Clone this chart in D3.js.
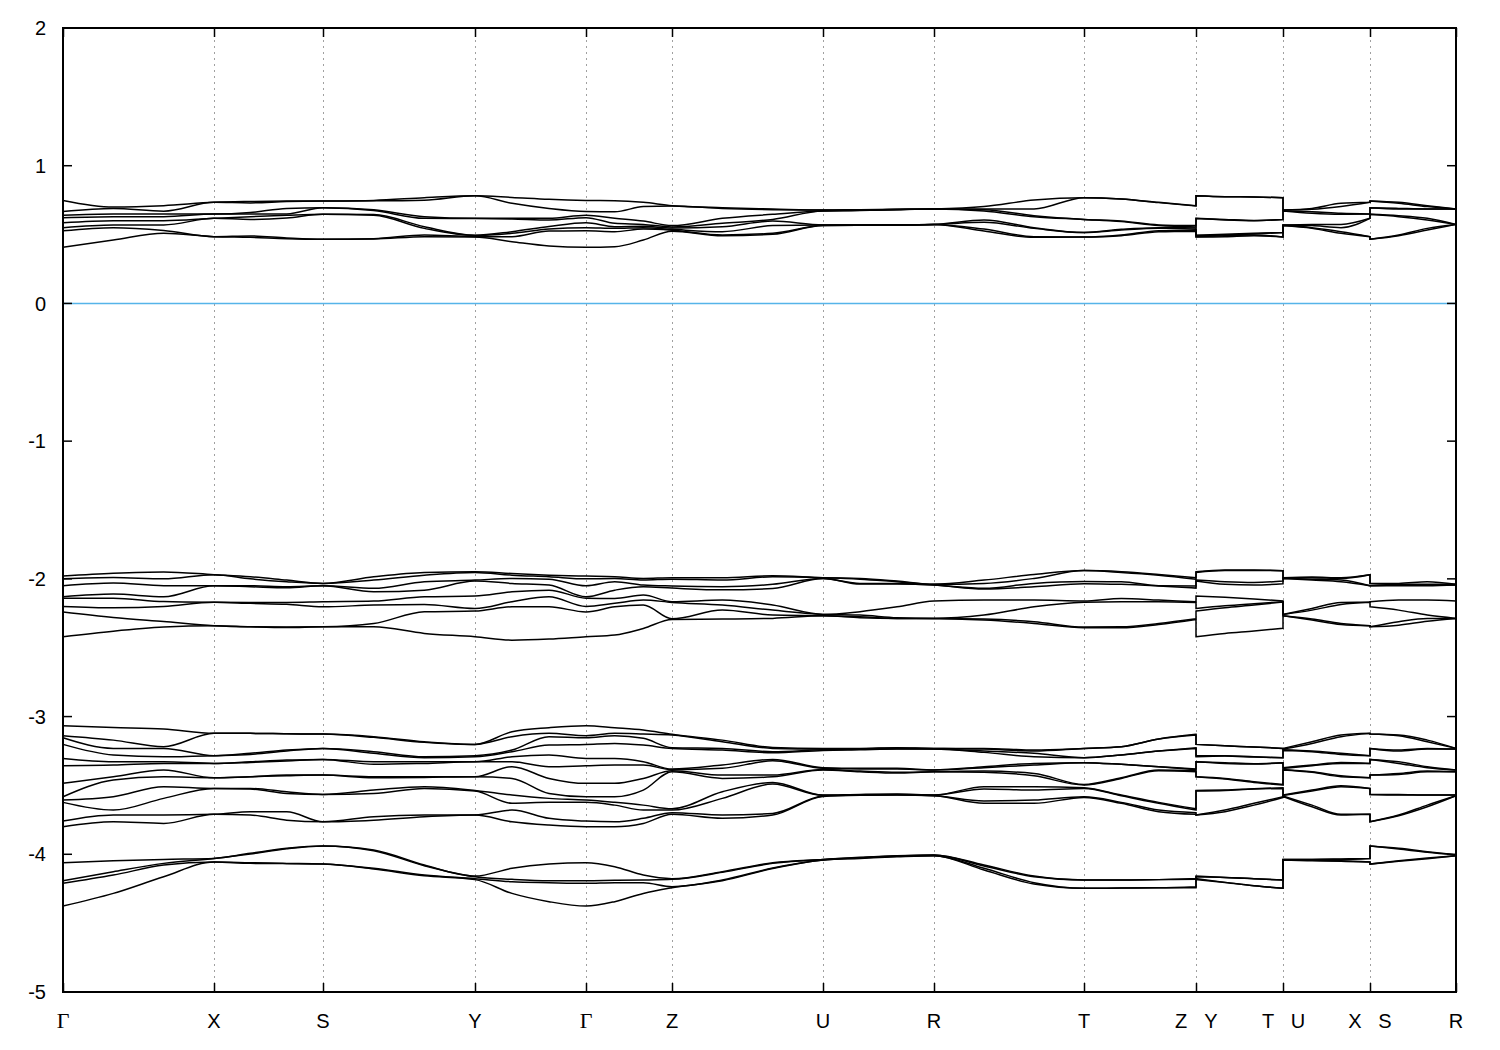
<!DOCTYPE html>
<html><head><meta charset="utf-8">
<script src="https://cdn.jsdelivr.net/npm/d3@7"></script>
<style>body{margin:0;background:#fff}svg{display:block}</style>
</head><body>
<svg id="chart" width="1500" height="1050"></svg>
<script>
// high-symmetry labels and their path coordinate
const kLabels = ["Γ","X","S","Y","Γ","Z","U","R","T","Z|Y","T|U","X|S","R"];
const kLabelPos = [0,1.51,2.60,4.12,5.23,6.09,7.60,8.71,10.21,11.33,12.20,13.07,13.93];
// k-point path coordinates of the sampled points (4 continuous pieces)
const kDist = [0,0.503,1.007,1.51,1.873,2.237,2.60,3.107,3.613,4.12,4.49,4.86,5.23,5.517,5.803,6.09,6.593,7.097,7.60,7.97,8.34,8.71,9.21,9.71,10.21,10.583,10.957,11.33,
  11.33,11.62,11.91,12.20,
  12.20,12.49,12.78,13.07,
  13.07,13.357,13.643,13.93];
const pieceStarts = [0,28,32,36];
const yTicks = [2,1,0,-1,-2,-3,-4,-5];

// energies (eV) at each sampled k-point, one row per k-point
const bandsConduction = [
[0.748,0.668,0.64,0.623,0.585,0.55,0.527,0.408],
[0.70,0.69,0.65,0.63,0.60,0.57,0.55,0.46],
[0.71,0.67,0.65,0.63,0.60,0.57,0.53,0.51],
[0.734,0.734,0.649,0.649,0.618,0.618,0.485,0.485],
[0.74,0.73,0.66,0.65,0.63,0.61,0.49,0.48],
[0.743,0.74,0.69,0.65,0.64,0.62,0.475,0.47],
[0.744,0.744,0.695,0.695,0.647,0.647,0.466,0.466],
[0.748,0.745,0.68,0.675,0.645,0.64,0.47,0.468],
[0.768,0.75,0.63,0.618,0.557,0.545,0.497,0.485],
[0.782,0.782,0.618,0.616,0.495,0.493,0.485,0.482],
[0.77,0.727,0.618,0.613,0.521,0.509,0.485,0.448],
[0.756,0.69,0.618,0.606,0.558,0.54,0.526,0.417],
[0.748,0.668,0.64,0.623,0.585,0.55,0.527,0.408],
[0.746,0.666,0.618,0.582,0.557,0.545,0.521,0.412],
[0.734,0.703,0.598,0.574,0.56,0.55,0.54,0.46],
[0.71,0.708,0.565,0.555,0.548,0.538,0.532,0.525],
[0.695,0.69,0.618,0.582,0.557,0.521,0.497,0.492],
[0.686,0.681,0.647,0.61,0.598,0.565,0.509,0.502],
[0.678,0.678,0.671,0.671,0.57,0.57,0.565,0.565],
[0.681,0.678,0.676,0.674,0.57,0.57,0.567,0.567],
[0.683,0.683,0.681,0.681,0.57,0.57,0.57,0.57],
[0.686,0.686,0.686,0.686,0.574,0.574,0.574,0.574],
[0.703,0.686,0.681,0.671,0.606,0.589,0.54,0.526],
[0.751,0.686,0.637,0.63,0.55,0.545,0.485,0.48],
[0.768,0.768,0.61,0.61,0.515,0.515,0.482,0.482],
[0.758,0.758,0.598,0.594,0.538,0.533,0.497,0.492],
[0.734,0.732,0.57,0.565,0.55,0.545,0.528,0.521],
[0.71,0.708,0.565,0.555,0.548,0.538,0.532,0.525],
[0.782,0.782,0.618,0.616,0.495,0.493,0.485,0.482],
[0.775,0.775,0.61,0.606,0.502,0.497,0.492,0.485],
[0.773,0.773,0.603,0.601,0.509,0.504,0.497,0.492],
[0.768,0.768,0.61,0.61,0.515,0.515,0.482,0.482],
[0.678,0.678,0.671,0.671,0.57,0.57,0.565,0.565],
[0.69,0.683,0.666,0.654,0.574,0.565,0.55,0.545],
[0.727,0.703,0.654,0.647,0.574,0.55,0.521,0.509],
[0.734,0.734,0.649,0.649,0.618,0.618,0.485,0.485],
[0.744,0.744,0.695,0.695,0.647,0.647,0.466,0.466],
[0.734,0.727,0.69,0.686,0.637,0.63,0.497,0.492],
[0.71,0.703,0.686,0.686,0.618,0.606,0.545,0.533],
[0.686,0.686,0.686,0.686,0.574,0.574,0.574,0.574]
];

const bandsValence1 = [
[-1.98,-2.00,-2.05,-2.13,-2.14,-2.20,-2.24,-2.42],
[-1.96,-1.99,-2.03,-2.11,-2.14,-2.21,-2.28,-2.38],
[-1.95,-2.00,-2.05,-2.13,-2.165,-2.20,-2.31,-2.35],
[-1.97,-1.97,-2.05,-2.05,-2.17,-2.17,-2.34,-2.34],
[-1.985,-2.00,-2.05,-2.057,-2.171,-2.178,-2.348,-2.348],
[-2.009,-2.021,-2.057,-2.065,-2.171,-2.185,-2.35,-2.353],
[-2.033,-2.033,-2.05,-2.05,-2.166,-2.203,-2.348,-2.348],
[-1.985,-2.009,-2.069,-2.094,-2.161,-2.19,-2.324,-2.348],
[-1.953,-1.973,-2.021,-2.082,-2.13,-2.186,-2.239,-2.396],
[-1.948,-1.953,-2.009,-2.016,-2.125,-2.215,-2.234,-2.42],
[-1.961,-1.973,-1.997,-2.033,-2.094,-2.166,-2.203,-2.445],
[-1.973,-1.985,-2.002,-2.045,-2.082,-2.13,-2.203,-2.437],
[-1.98,-2.00,-2.05,-2.13,-2.14,-2.20,-2.24,-2.42],
[-1.985,-1.997,-2.021,-2.082,-2.142,-2.178,-2.203,-2.408],
[-1.997,-2.009,-2.045,-2.057,-2.118,-2.154,-2.19,-2.36],
[-1.992,-2.002,-2.052,-2.067,-2.166,-2.171,-2.29,-2.295],
[-1.992,-2.009,-2.057,-2.08,-2.154,-2.19,-2.227,-2.292],
[-1.977,-1.985,-2.04,-2.07,-2.19,-2.227,-2.263,-2.287],
[-1.992,-1.992,-1.997,-1.997,-2.258,-2.258,-2.268,-2.268],
[-1.997,-2.002,-2.033,-2.038,-2.238,-2.263,-2.275,-2.282],
[-2.016,-2.021,-2.033,-2.038,-2.203,-2.282,-2.287,-2.287],
[-2.04,-2.04,-2.045,-2.045,-2.161,-2.287,-2.287,-2.287],
[-2.009,-2.033,-2.069,-2.074,-2.154,-2.263,-2.292,-2.299],
[-1.968,-1.997,-2.033,-2.057,-2.154,-2.203,-2.311,-2.324],
[-1.94,-1.94,-2.02,-2.035,-2.16,-2.17,-2.35,-2.355],
[-1.948,-1.953,-2.021,-2.04,-2.142,-2.166,-2.348,-2.355],
[-1.968,-1.973,-2.05,-2.052,-2.154,-2.166,-2.324,-2.331],
[-1.992,-2.002,-2.052,-2.067,-2.166,-2.171,-2.29,-2.295],
[-1.948,-1.953,-2.009,-2.016,-2.125,-2.215,-2.234,-2.42],
[-1.936,-1.939,-2.021,-2.04,-2.134,-2.195,-2.209,-2.396],
[-1.936,-1.939,-2.026,-2.045,-2.146,-2.18,-2.19,-2.379],
[-1.941,-1.941,-2.016,-2.035,-2.161,-2.166,-2.168,-2.359],
[-1.992,-1.992,-1.997,-1.997,-2.258,-2.258,-2.268,-2.268],
[-1.987,-1.992,-2.002,-2.009,-2.215,-2.227,-2.292,-2.299],
[-1.992,-1.997,-2.009,-2.021,-2.171,-2.186,-2.324,-2.331],
[-1.97,-1.97,-2.05,-2.05,-2.17,-2.17,-2.34,-2.34],
[-2.033,-2.033,-2.05,-2.05,-2.166,-2.203,-2.348,-2.348],
[-2.033,-2.04,-2.045,-2.05,-2.154,-2.227,-2.311,-2.336],
[-2.021,-2.04,-2.045,-2.05,-2.154,-2.263,-2.287,-2.307],
[-2.04,-2.04,-2.045,-2.045,-2.161,-2.287,-2.287,-2.287]
];

const bandsValence2 = [
[-3.066,-3.139,-3.154,-3.202,-3.304,-3.357,-3.485,-3.582,-3.606,-3.623,-3.759,-3.80],
[-3.079,-3.171,-3.231,-3.279,-3.328,-3.352,-3.437,-3.461,-3.582,-3.679,-3.715,-3.764],
[-3.091,-3.219,-3.231,-3.292,-3.328,-3.34,-3.388,-3.437,-3.509,-3.594,-3.715,-3.776],
[-3.122,-3.122,-3.284,-3.284,-3.34,-3.34,-3.444,-3.444,-3.522,-3.522,-3.71,-3.71],
[-3.122,-3.122,-3.267,-3.275,-3.328,-3.333,-3.437,-3.437,-3.522,-3.526,-3.691,-3.715],
[-3.125,-3.125,-3.243,-3.25,-3.316,-3.323,-3.425,-3.43,-3.546,-3.558,-3.691,-3.752],
[-3.127,-3.127,-3.231,-3.231,-3.311,-3.311,-3.425,-3.425,-3.565,-3.565,-3.764,-3.764],
[-3.146,-3.151,-3.255,-3.267,-3.328,-3.347,-3.437,-3.444,-3.534,-3.558,-3.727,-3.752],
[-3.183,-3.187,-3.292,-3.299,-3.328,-3.34,-3.437,-3.442,-3.509,-3.522,-3.715,-3.727],
[-3.202,-3.202,-3.284,-3.292,-3.328,-3.328,-3.437,-3.437,-3.536,-3.541,-3.715,-3.715],
[-3.11,-3.146,-3.243,-3.255,-3.292,-3.328,-3.364,-3.449,-3.57,-3.63,-3.679,-3.764],
[-3.081,-3.122,-3.146,-3.207,-3.279,-3.364,-3.449,-3.558,-3.594,-3.623,-3.739,-3.788],
[-3.066,-3.139,-3.154,-3.202,-3.304,-3.357,-3.485,-3.582,-3.606,-3.623,-3.759,-3.80],
[-3.081,-3.122,-3.139,-3.195,-3.304,-3.352,-3.485,-3.582,-3.623,-3.643,-3.764,-3.80],
[-3.098,-3.127,-3.158,-3.207,-3.328,-3.352,-3.449,-3.534,-3.643,-3.679,-3.739,-3.776],
[-3.129,-3.134,-3.226,-3.231,-3.381,-3.386,-3.393,-3.401,-3.669,-3.679,-3.698,-3.71],
[-3.171,-3.183,-3.231,-3.243,-3.352,-3.376,-3.425,-3.449,-3.546,-3.594,-3.715,-3.739],
[-3.224,-3.231,-3.255,-3.263,-3.311,-3.321,-3.425,-3.437,-3.478,-3.49,-3.703,-3.715],
[-3.231,-3.236,-3.241,-3.246,-3.371,-3.376,-3.384,-3.388,-3.57,-3.572,-3.577,-3.58],
[-3.231,-3.233,-3.238,-3.241,-3.376,-3.381,-3.396,-3.401,-3.565,-3.568,-3.57,-3.572],
[-3.226,-3.229,-3.233,-3.236,-3.376,-3.381,-3.405,-3.41,-3.563,-3.565,-3.568,-3.57],
[-3.231,-3.231,-3.236,-3.236,-3.388,-3.388,-3.401,-3.401,-3.57,-3.57,-3.575,-3.575],
[-3.231,-3.236,-3.25,-3.26,-3.364,-3.371,-3.396,-3.405,-3.509,-3.526,-3.613,-3.63],
[-3.243,-3.25,-3.267,-3.292,-3.34,-3.352,-3.413,-3.43,-3.509,-3.534,-3.606,-3.63],
[-3.231,-3.231,-3.299,-3.299,-3.335,-3.335,-3.493,-3.497,-3.517,-3.522,-3.582,-3.587],
[-3.219,-3.219,-3.279,-3.279,-3.347,-3.347,-3.444,-3.449,-3.57,-3.575,-3.623,-3.63],
[-3.163,-3.163,-3.25,-3.25,-3.364,-3.364,-3.388,-3.393,-3.623,-3.63,-3.679,-3.691],
[-3.129,-3.134,-3.226,-3.231,-3.381,-3.386,-3.393,-3.401,-3.669,-3.679,-3.698,-3.71],
[-3.202,-3.202,-3.284,-3.292,-3.328,-3.328,-3.437,-3.437,-3.536,-3.541,-3.715,-3.715],
[-3.212,-3.212,-3.284,-3.287,-3.335,-3.34,-3.449,-3.454,-3.534,-3.536,-3.679,-3.691],
[-3.221,-3.221,-3.292,-3.294,-3.342,-3.345,-3.473,-3.478,-3.524,-3.526,-3.63,-3.643],
[-3.231,-3.231,-3.299,-3.299,-3.335,-3.335,-3.493,-3.497,-3.517,-3.522,-3.582,-3.587],
[-3.231,-3.236,-3.241,-3.246,-3.371,-3.376,-3.384,-3.388,-3.57,-3.572,-3.577,-3.58],
[-3.183,-3.195,-3.25,-3.255,-3.352,-3.357,-3.401,-3.405,-3.534,-3.541,-3.643,-3.655],
[-3.134,-3.146,-3.267,-3.275,-3.333,-3.34,-3.43,-3.437,-3.502,-3.509,-3.71,-3.715],
[-3.122,-3.122,-3.284,-3.284,-3.34,-3.34,-3.444,-3.444,-3.522,-3.522,-3.71,-3.71],
[-3.127,-3.127,-3.231,-3.231,-3.311,-3.311,-3.425,-3.425,-3.565,-3.565,-3.764,-3.764],
[-3.134,-3.139,-3.243,-3.25,-3.328,-3.34,-3.413,-3.42,-3.565,-3.57,-3.715,-3.72],
[-3.171,-3.183,-3.231,-3.236,-3.364,-3.371,-3.396,-3.401,-3.57,-3.57,-3.643,-3.655],
[-3.231,-3.231,-3.236,-3.236,-3.388,-3.388,-3.401,-3.401,-3.57,-3.57,-3.575,-3.575]
];

const bandsValence3 = [
[-4.061,-4.192,-4.211,-4.376],
[-4.047,-4.126,-4.151,-4.284],
[-4.037,-4.066,-4.078,-4.163],
[-4.03,-4.03,-4.056,-4.056],
[-3.993,-3.998,-4.061,-4.066],
[-3.957,-3.96,-4.066,-4.068],
[-3.94,-3.94,-4.071,-4.071],
[-3.969,-3.974,-4.102,-4.107],
[-4.078,-4.083,-4.151,-4.156],
[-4.158,-4.163,-4.177,-4.184],
[-4.102,-4.182,-4.199,-4.284],
[-4.071,-4.192,-4.206,-4.344],
[-4.061,-4.192,-4.211,-4.376],
[-4.09,-4.189,-4.206,-4.344],
[-4.151,-4.187,-4.206,-4.284],
[-4.177,-4.182,-4.235,-4.243],
[-4.126,-4.131,-4.187,-4.192],
[-4.061,-4.066,-4.1,-4.104],
[-4.037,-4.037,-4.042,-4.042],
[-4.022,-4.025,-4.027,-4.03],
[-4.01,-4.013,-4.015,-4.018],
[-4.005,-4.005,-4.01,-4.01],
[-4.078,-4.085,-4.102,-4.114],
[-4.158,-4.163,-4.206,-4.216],
[-4.187,-4.187,-4.247,-4.247],
[-4.187,-4.187,-4.245,-4.245],
[-4.184,-4.184,-4.243,-4.243],
[-4.177,-4.182,-4.235,-4.243],
[-4.158,-4.163,-4.177,-4.184],
[-4.168,-4.168,-4.204,-4.204],
[-4.177,-4.177,-4.228,-4.228],
[-4.187,-4.187,-4.247,-4.247],
[-4.037,-4.037,-4.042,-4.042],
[-4.037,-4.037,-4.044,-4.047],
[-4.034,-4.037,-4.047,-4.051],
[-4.03,-4.03,-4.056,-4.056],
[-3.94,-3.94,-4.071,-4.071],
[-3.957,-3.962,-4.047,-4.051],
[-3.981,-3.986,-4.027,-4.032],
[-4.005,-4.005,-4.01,-4.01]
];

const groups = [bandsConduction, bandsValence1, bandsValence2, bandsValence3];

const W = 1500, H = 1050;
const L = 63, R = 1456, T = 28, B = 992;
const svg = d3.select("#chart");
svg.append("rect").attr("width", W).attr("height", H).attr("fill", "#fff");

const x = d3.scaleLinear().domain([kLabelPos[0], kLabelPos[kLabelPos.length-1]]).range([L, R]);
const y = d3.scaleLinear().domain([-5, 2]).range([B, T]);

// vertical dotted grid lines at high-symmetry points
svg.append("g").selectAll("line").data(kLabelPos.slice(1, -1)).join("line")
  .attr("x1", d => Math.round(x(d)) + 0.5).attr("x2", d => Math.round(x(d)) + 0.5)
  .attr("y1", T).attr("y2", B)
  .attr("stroke", "#a0a0a0").attr("stroke-width", 1).attr("stroke-dasharray", "2,4");

// Fermi level line
svg.append("line").attr("x1", L).attr("x2", R)
  .attr("y1", y(0)).attr("y2", y(0))
  .attr("stroke", "#56b4e9").attr("stroke-width", 1.5);

// bands
const line = d3.line().x(d => x(d[0])).y(d => y(d[1])).curve(d3.curveMonotoneX);
const gBands = svg.append("g").attr("fill", "none").attr("stroke", "#000").attr("stroke-width", 1.5);
groups.forEach(rows => {
  const sorted = rows.map(r => d3.sort(r, (a, b) => b - a));
  const nb = sorted[0].length;
  for (let b = 0; b < nb; b++) {
    const pts = sorted.map((r, i) => [kDist[i], r[b]]);
    let path = "";
    pieceStarts.forEach((s, pi) => {
      const e = pi + 1 < pieceStarts.length ? pieceStarts[pi + 1] : pts.length;
      const seg = line(pts.slice(s, e));
      path += pi === 0 ? seg : "L" + seg.slice(1);
    });
    gBands.append("path").attr("d", path);
  }
});

// frame
svg.append("rect").attr("x", L).attr("y", T).attr("width", R - L).attr("height", B - T)
  .attr("fill", "none").attr("stroke", "#000").attr("stroke-width", 2);

// y ticks and labels
const gy = svg.append("g");
yTicks.forEach(v => {
  const yy = y(v);
  gy.append("line").attr("x1", L).attr("x2", L + 9).attr("y1", yy).attr("y2", yy).attr("stroke", "#000").attr("stroke-width", 1.5);
  gy.append("line").attr("x1", R - 9).attr("x2", R).attr("y1", yy).attr("y2", yy).attr("stroke", "#000").attr("stroke-width", 1.5);
  gy.append("text").attr("x", 46).attr("y", yy).attr("dy", "0.36em")
    .attr("text-anchor", "end").attr("font-family", "Liberation Sans, Arial, sans-serif")
    .attr("font-size", 20).text(v);
});

// x ticks and labels
const gx = svg.append("g");
kLabels.forEach((lab, i) => {
  const xx = Math.round(x(kLabelPos[i])) + 0.5;
  gx.append("line").attr("x1", xx).attr("x2", xx).attr("y1", B).attr("y2", B - 9).attr("stroke", "#000").attr("stroke-width", 1.5);
  gx.append("line").attr("x1", xx).attr("x2", xx).attr("y1", T).attr("y2", T + 9).attr("stroke", "#000").attr("stroke-width", 1.5);
  const parts = lab.split("|");
  const offs = parts.length === 2 ? [-15, 15] : [0];
  parts.forEach((p, j) => {
    gx.append("text").attr("x", x(kLabelPos[i]) + offs[j]).attr("y", 1028)
      .attr("text-anchor", "middle")
      .attr("font-family", p === "Γ" ? "Liberation Serif, serif" : "Liberation Sans, Arial, sans-serif")
      .attr("font-size", p === "Γ" ? 22 : 20).text(p);
  });
});
</script>
</body></html>
